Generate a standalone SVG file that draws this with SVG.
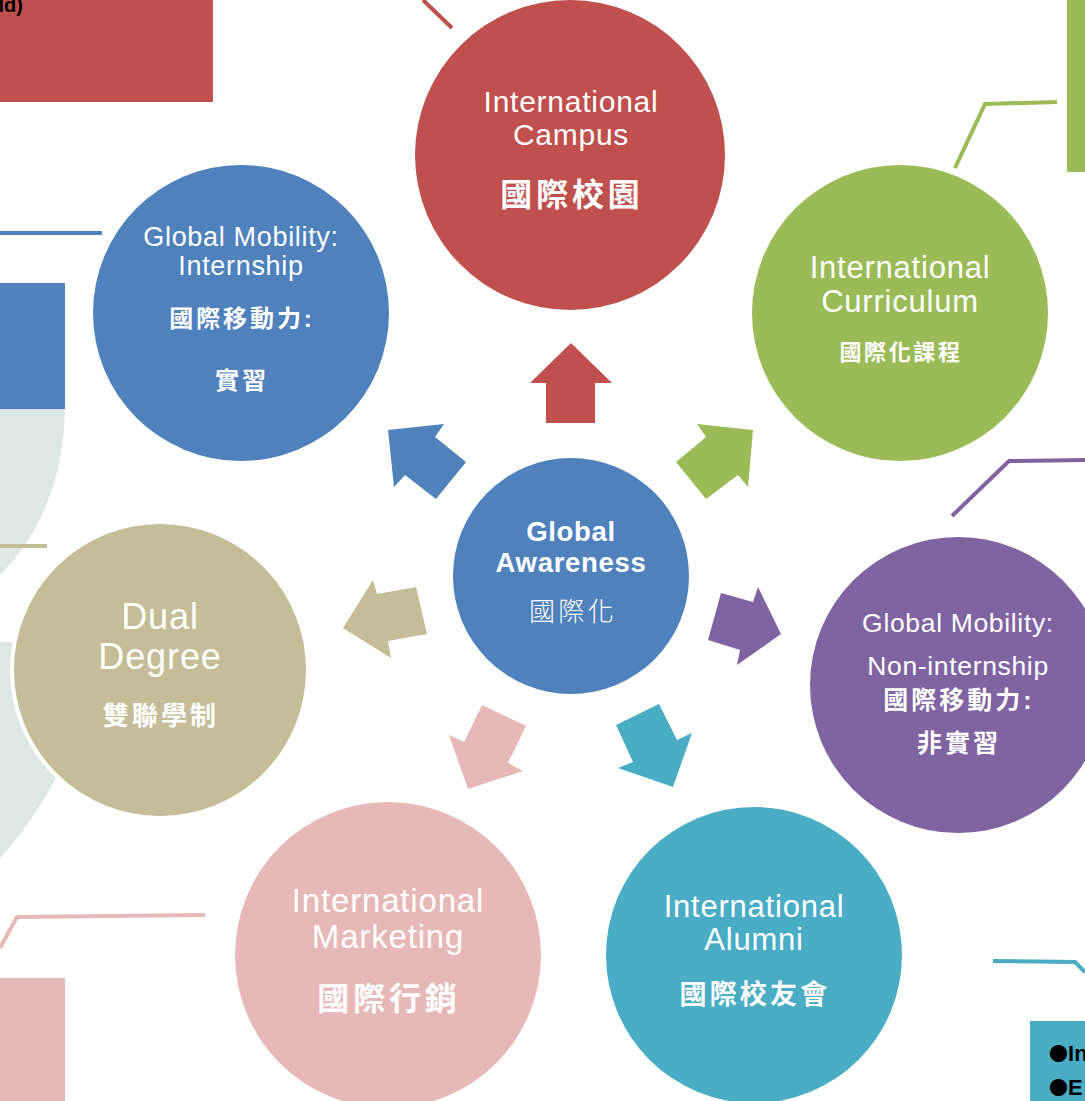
<svg xmlns="http://www.w3.org/2000/svg" width="1085" height="1101" viewBox="0 0 1085 1101">
<style>
.en{font-family:"Liberation Sans",Arial,"Noto Sans CJK TC",sans-serif;fill:#fff;text-anchor:middle;letter-spacing:0.025em}
.zh{font-family:"Liberation Sans","Noto Sans CJK TC",sans-serif;fill:#fff;text-anchor:middle;font-weight:bold;letter-spacing:0.12em}
.blk{font-family:"Liberation Sans",Arial,sans-serif;font-weight:bold;fill:#000}
.bul{font-family:"Noto Sans CJK TC",sans-serif;font-size:19px}
.lead{fill:none;stroke-width:4}
.red{fill:#C0504D}.blue{fill:#4F81BD}.green{fill:#9BBB59}.purple{fill:#8064A2}
.teal{fill:#4BACC6}.pink{fill:#E6B9B8}.tan{fill:#C4BD97}.pale{fill:#DDE8E4}
</style>
<rect width="1085" height="1101" fill="#fff"/>
<g id="background">
<path class="pale" d="M0,409 H65 C64,470 45,530 0,575 Z"/>
<path class="pale" d="M0,642 H40 L60,770 C45,800 25,830 0,858 Z"/>
<rect class="red" x="0" y="0" width="213" height="102"/>
<text class="blk" x="23" y="12" font-size="20" text-anchor="end">ld)</text>
<rect class="blue" x="0" y="283" width="65" height="126"/>
<rect class="pink" x="0" y="978" width="65" height="123"/>
<rect class="green" x="1067" y="0" width="18" height="172"/>
<rect class="teal" x="1030" y="1021" width="55" height="80"/>
<text class="blk" x="1049" y="1061" font-size="22"><tspan class="bul">●</tspan>In</text>
<text class="blk" x="1049" y="1095" font-size="22"><tspan class="bul">●</tspan>E</text>
</g>
<g id="connectors">
<polyline class="lead" stroke="#C0504D" points="423,0 452,28"/>
<polyline class="lead" stroke="#4F81BD" points="0,233 102,233"/>
<polyline class="lead" stroke="#C4BD97" points="0,546 47,546"/>
<polyline class="lead" stroke="#E6B9B8" points="0,948 17,917 205,915"/>
<polyline class="lead" stroke="#9BBB59" points="955,168 985,104 1057,102"/>
<polyline class="lead" stroke="#8064A2" points="952,516 1009,461 1085,460"/>
<polyline class="lead" stroke="#4BACC6" points="993,961 1075,962 1085,972"/>
<polygon class="red" points="571,343 612,383 595,383 595,423 546,423 546,383 530,383"/>
<polygon class="blue" points="388,430 444,424 435,437 466,462 436,499 405,475 394,487"/>
<polygon class="green" points="753,430 697,424 706,437 676,462 706,499 738,475 748,487"/>
<polygon class="tan" points="343,628 373,580 377,594 416,587 427,634 388,641 391,658"/>
<polygon class="purple" points="721,593 753,602 758,587 781,634 737,665 740,650 708,640"/>
<polygon class="pink" points="482,705 526,726 508,763 523,771 468,789 449,735 464,742"/>
<polygon class="teal" points="659,704 677,740 692,733 673,787 618,768 633,762 616,725"/>
</g>
<g id="campus">
<circle class="red" cx="570" cy="155" r="155"/>
<text class="en" x="571" y="112" font-size="30">International</text>
<text class="en" x="571" y="145" font-size="30">Campus</text>
<text class="zh" x="572" y="206" font-size="32">國際校園</text>
</g>
<g id="internship">
<circle class="blue" cx="241" cy="313" r="148"/>
<text class="en" x="241" y="246" font-size="27">Global Mobility:</text>
<text class="en" x="241" y="275" font-size="27">Internship</text>
<text class="zh" x="242" y="327" font-size="24">國際移動力:</text>
<text class="zh" x="242" y="389" font-size="24">實習</text>
</g>
<g id="curriculum">
<circle class="green" cx="900" cy="313" r="148"/>
<text class="en" x="900" y="278" font-size="31">International</text>
<text class="en" x="900" y="312" font-size="31">Curriculum</text>
<text class="zh" x="901" y="360" font-size="22">國際化課程</text>
</g>
<g id="awareness">
<circle class="blue" cx="571" cy="576" r="118"/>
<text class="en" x="571" y="541" font-size="27.5" font-weight="bold" letter-spacing="0.02em">Global</text>
<text class="en" x="571" y="572" font-size="27.5" font-weight="bold" letter-spacing="0.02em">Awareness</text>
<text class="en" x="573" y="621" font-size="26" style="font-family:'Noto Sans CJK TC',sans-serif;font-weight:300;letter-spacing:0.13em">國際化</text>
</g>
<g id="dual">
<circle class="tan" cx="160" cy="670" r="148" stroke="#fff" stroke-width="4"/>
<text class="en" x="160" y="629" font-size="36">Dual</text>
<text class="en" x="160" y="669" font-size="36">Degree</text>
<text class="zh" x="161" y="725" font-size="26">雙聯學制</text>
</g>
<g id="noninternship">
<circle class="purple" cx="958" cy="685" r="148"/>
<text class="en" x="958" y="632" font-size="26.5">Global Mobility:</text>
<text class="en" x="958" y="675" font-size="26.5">Non-internship</text>
<text class="zh" x="959" y="709" font-size="25">國際移動力:</text>
<text class="zh" x="959" y="752" font-size="25">非實習</text>
</g>
<g id="marketing">
<circle class="pink" cx="388" cy="955" r="153"/>
<text class="en" x="388" y="912" font-size="33">International</text>
<text class="en" x="388" y="948" font-size="33">Marketing</text>
<text class="zh" x="389" y="1010" font-size="32">國際行銷</text>
</g>
<g id="alumni">
<circle class="teal" cx="754" cy="955" r="148"/>
<text class="en" x="754" y="917" font-size="31">International</text>
<text class="en" x="754" y="950" font-size="31">Alumni</text>
<text class="zh" x="755" y="1004" font-size="27">國際校友會</text>
</g>
</svg>
